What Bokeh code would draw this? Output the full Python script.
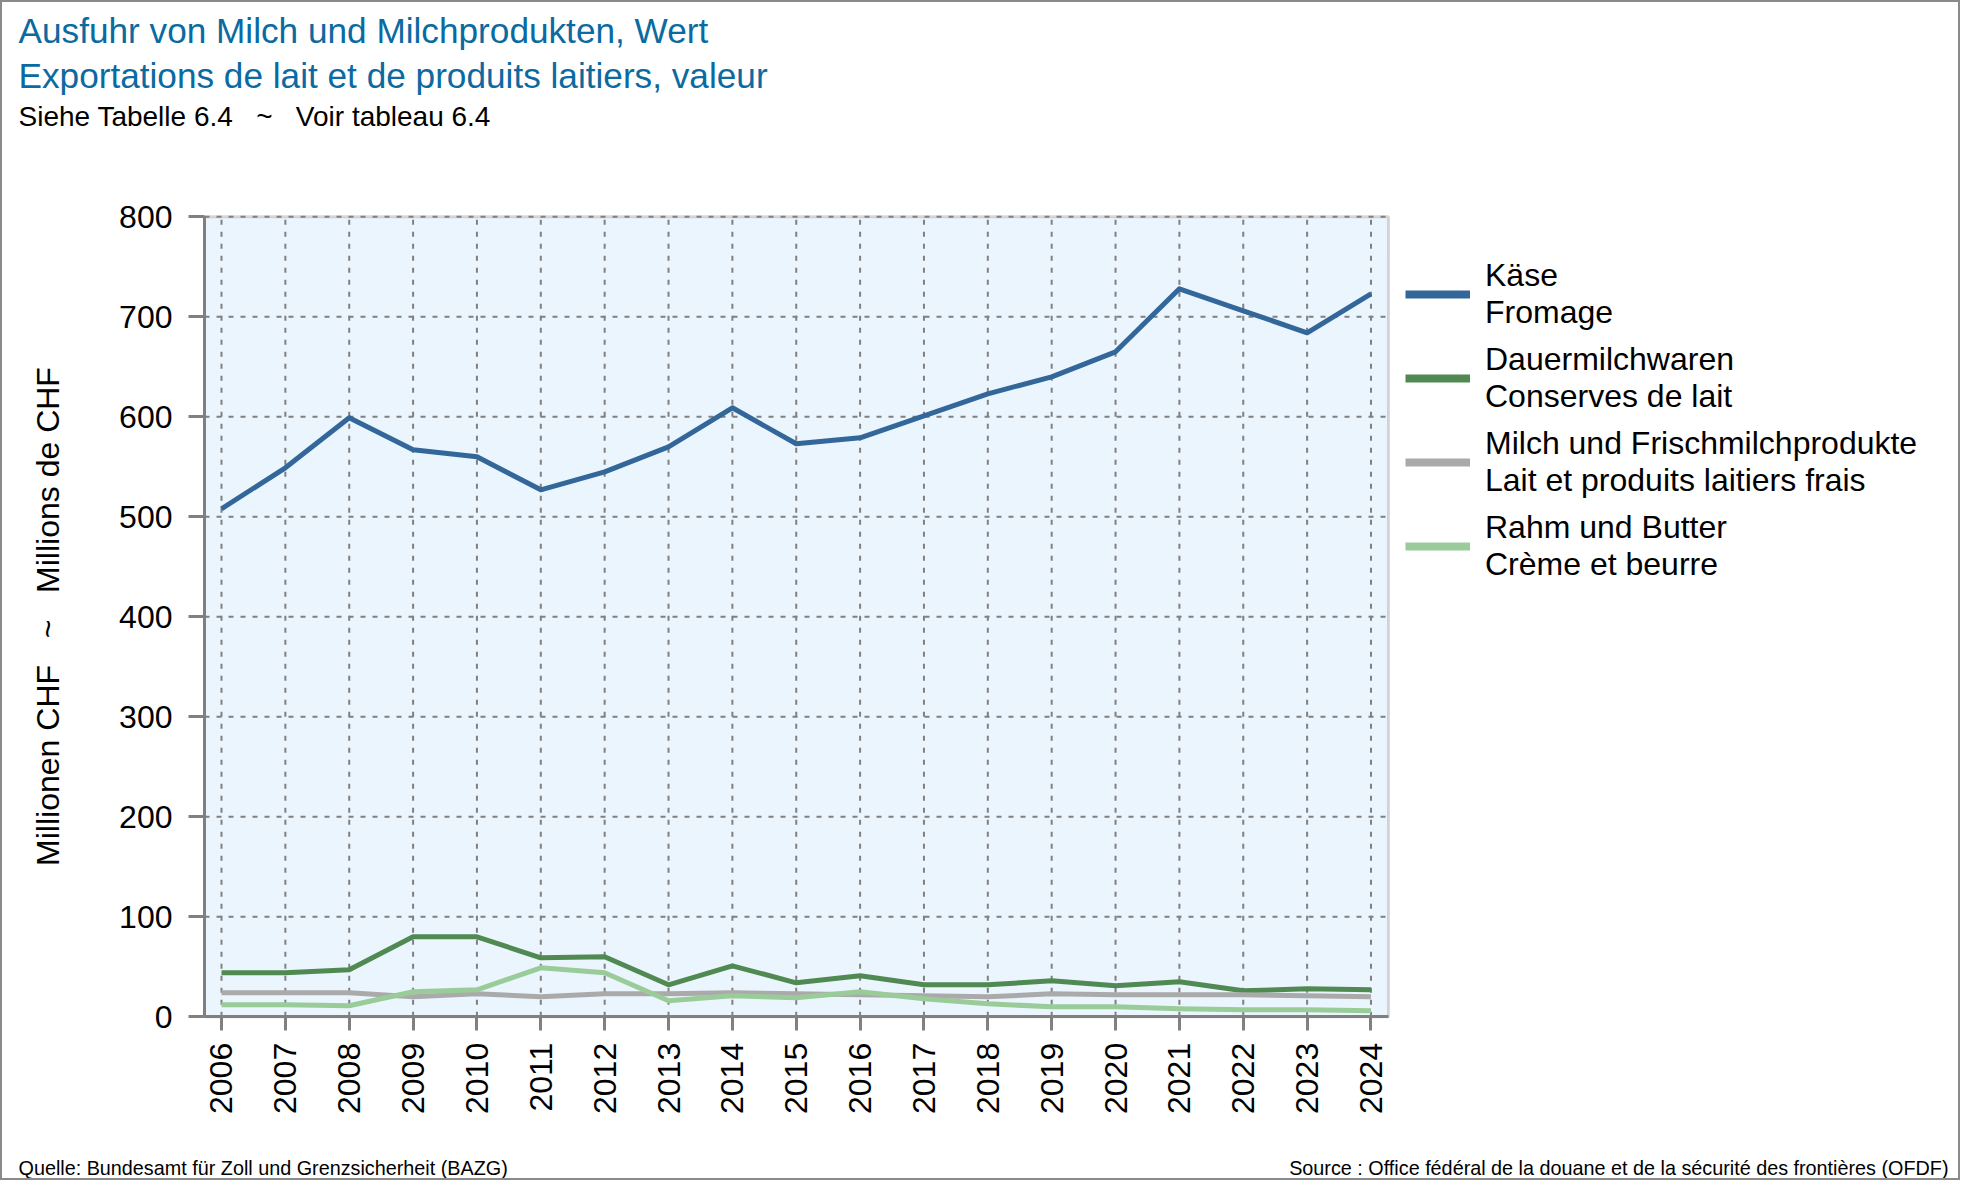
import math
from bokeh.plotting import figure
from bokeh.models import Range1d, FixedTicker, Legend, LegendItem, Label, BoxAnnotation
from bokeh.embed import file_html
from bokeh.resources import INLINE

# ---------------- data ----------------
years = list(range(2006, 2025))
kaese = [508, 549, 599, 567, 560, 527, 545, 570, 609, 573, 579, 601, 623, 640, 665, 728, 706, 684, 723]
dauermilch = [44, 44, 47, 80, 80, 59, 60, 32, 51, 34, 41, 32, 32, 36, 31, 35, 26, 28, 27]
milch = [24, 24, 24, 20, 23, 20, 23, 23, 24, 23, 22, 21, 20, 23, 22, 22, 22, 21, 20]
rahm = [12, 12, 11, 25, 27, 49, 44, 16, 21, 19, 25, 18, 13, 10, 10, 8, 7, 7, 6]

series_labels = [
    "Käse\nFromage",
    "Dauermilchwaren\nConserves de lait",
    "Milch und Frischmilchprodukte\nLait et produits laitiers frais",
    "Rahm und Butter\nCrème et beurre",
]
series_values = [kaese, dauermilch, milch, rahm]
series_colors = ["#336699", "#508a52", "#aaaaaa", "#99cc99"]
y_ticks = [0, 100, 200, 300, 400, 500, 600, 700, 800]

NB = "\u00a0"
title_1 = "Ausfuhr von Milch und Milchprodukten, Wert"
title_2 = "Exportations de lait et de produits laitiers, valeur"
subtitle = "Siehe Tabelle 6.4" + NB * 3 + "~" + NB * 3 + "Voir tableau 6.4"
y_label = "Millionen CHF" + NB * 3 + "~" + NB * 3 + "Millions de CHF"
source_de = "Quelle: Bundesamt für Zoll und Grenzsicherheit (BAZG)"
source_fr = "Source : Office fédéral de la douane et de la sécurité des frontières (OFDF)"

FONT = "Liberation Sans"
GRAY = "#808080"
TITLE_BLUE = "#0a6aa1"

# ---------------- layout constants (pixels) ----------------
W, H = 1960, 1180
PX_PER_YEAR = 63.86      # horizontal pixels per year
PX_PER_UNIT = 1.0        # vertical pixels per million CHF
X_FIRST_PX = 219         # pixel of first year from canvas left
Y_ZERO_PX = 165.7        # pixel of value 0 from canvas bottom
AREA_X = (2005.734, 2024.274)   # plot area horizontal extent (data)
AREA_Y = (0, 800)

x0 = years[0] - X_FIRST_PX / PX_PER_YEAR
y0 = -Y_ZERO_PX / PX_PER_UNIT

p = figure(width=W, height=H, output_backend="svg", toolbar_location=None,
           x_range=Range1d(x0, x0 + W / PX_PER_YEAR),
           y_range=Range1d(y0, y0 + H / PX_PER_UNIT),
           min_border=0, min_border_left=0, min_border_right=0,
           min_border_top=0, min_border_bottom=0)
p.title = None
p.styles = {"border": "2px solid #8a8a8a"}
p.background_fill_color = "white"
p.border_fill_color = "white"
p.outline_line_color = None
p.grid.visible = False

# plot area
p.add_layout(BoxAnnotation(left=AREA_X[0], right=AREA_X[1], bottom=AREA_Y[0], top=AREA_Y[1],
                           fill_color="#ebf5fe", fill_alpha=1.0,
                           line_color=GRAY, line_width=3, level="underlay"))

# grid lines drawn from tick arrays
n_y = len(y_ticks)
p.segment(x0=years, y0=[AREA_Y[0]] * len(years), x1=years, y1=[AREA_Y[1]] * len(years),
          line_color=GRAY, line_width=2, line_dash="5 7")
p.segment(x0=[AREA_X[0]] * n_y, y0=y_ticks, x1=[AREA_X[1]] * n_y, y1=y_ticks,
          line_color=GRAY, line_width=2, line_dash="5 7")

# axes at fixed locations
p.xaxis.fixed_location = AREA_Y[0]
p.yaxis.fixed_location = AREA_X[0]
p.xaxis.bounds = AREA_X
p.yaxis.bounds = AREA_Y
p.xaxis.ticker = FixedTicker(ticks=years)
p.yaxis.ticker = FixedTicker(ticks=y_ticks)
p.xaxis.major_label_orientation = math.pi / 2
for ax in (p.xaxis, p.yaxis):
    ax.axis_line_color = GRAY
    ax.axis_line_width = 3
    ax.major_tick_line_color = GRAY
    ax.major_tick_line_width = 3
    ax.major_tick_in = 0
    ax.minor_tick_line_color = None
    ax.major_label_text_font = FONT
    ax.major_label_text_font_size = "32px"
    ax.major_label_text_color = "black"
p.xaxis.major_tick_out = 14
p.yaxis.major_tick_out = 16
p.xaxis.major_label_standoff = 12
p.yaxis.major_label_standoff = 16
p.yaxis.axis_label = y_label
p.yaxis.axis_label_text_font = FONT
p.yaxis.axis_label_text_font_size = "32px"
p.yaxis.axis_label_text_font_style = "normal"
p.yaxis.axis_label_text_color = "black"
p.yaxis.axis_label_standoff = 50

# data lines
items = []
for lab, vals, col in zip(series_labels, series_values, series_colors):
    p.line(years, vals, line_color=col, line_width=5, line_join="round")
    dummy = p.line(x=[years[0]], y=[float("nan")], line_color=col, line_width=8)
    items.append(LegendItem(label=lab, renderers=[dummy]))

legend = Legend(items=items, location=(1403, 599), orientation="vertical",
                glyph_width=65, glyph_height=74, label_standoff=15, spacing=10,
                padding=0, margin=0, border_line_color=None,
                background_fill_alpha=0,
                label_text_font=FONT, label_text_font_size="32px",
                label_text_color="black")
p.add_layout(legend)


def txt(text, sx, sy, size, color="black", align="left"):
    return Label(x=sx, y=sy, x_units="screen", y_units="screen",
                 text=text, text_font=FONT, text_font_size=size,
                 text_color=color, text_align=align, text_baseline="alphabetic")


p.add_layout(txt(title_1, 16, 1152, "35.2px", TITLE_BLUE))
p.add_layout(txt(title_2, 16, 1107, "35.2px", TITLE_BLUE))
p.add_layout(txt(subtitle, 16, 1066, "28px"))
p.add_layout(txt(source_de, 16, 15, "19.8px"))
p.add_layout(txt(source_fr, 1946, 15, "19.8px", align="right"))

open("out.html", "w").write(file_html(p, INLINE))
